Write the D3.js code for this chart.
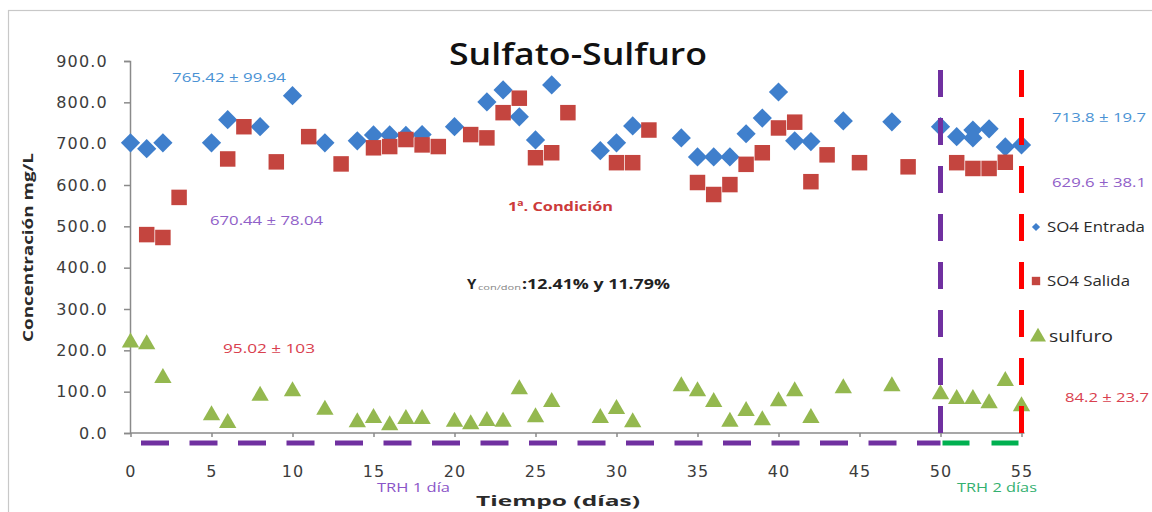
<!DOCTYPE html>
<html>
<head>
<meta charset="utf-8">
<script src="https://cdn.jsdelivr.net/npm/d3@7"></script>
<style>
  html, body { margin: 0; padding: 0; background: #fff; }
  svg { display: block; }
</style>
</head>
<body>
<script>
// Sulfate inlet, sulfate outlet and sulfide over time (days)
const entradaDias = [0,1,2,5,6,8,10,12,14,15,16,17,18,20,22,23,24,25,26,29,30,31,34,35,36,37,38,39,40,41,42,44,47,50,51,52,52,53,54,55];
const entradaVals = [702,688,702,702,758,741,816,702,707,721,721,720,722,741,801,830,765,709,842,683,702,743,714,668,668,668,724,762,825,707,705,755,753,741,717,733,714,736,692,697];

const salidaDias = [1,2,3,6,7,9,11,13,15,16,17,18,19,21,22,23,24,25,26,27,30,31,32,35,36,37,38,39,40,41,42,43,45,48,51,52,53,54];
const salidaVals = [480,473,570,663,741,656,717,651,690,693,710,697,693,722,714,775,810,666,678,775,654,654,733,606,577,601,650,678,738,752,608,673,654,644,654,640,640,655];

const sulfuroDias = [0,1,2,5,6,8,10,12,14,15,16,17,18,20,21,22,23,24,25,26,29,30,31,34,35,36,37,38,39,40,41,42,44,47,50,51,52,53,54,55];
const sulfuroVals = [219,215,133,43,24,90,101,56,26,36,19,34,34,27,21,29,27,106,38,75,36,58,26,113,101,75,27,53,31,77,101,36,108,113,94,82,82,72,126,65];

const yTicks = [0,100,200,300,400,500,600,700,800,900];
const xTicks = [0,5,10,15,20,25,30,35,40,45,50,55];

// phase boundaries (days)
const cambioTRH = 50;
const finCondicion = 55;

const W = 1152, H = 512;
const svg = d3.select("body").append("svg")
  .attr("width", W).attr("height", H)
  .attr("viewBox", `0 0 ${W} ${H}`);

svg.append("rect").attr("width", W).attr("height", H).attr("fill", "#fff");
// outer chart frame
svg.append("rect")
  .attr("x", 8.5).attr("y", 10.5).attr("width", 1200).attr("height", 600)
  .attr("fill", "none").attr("stroke", "#c8c8c8").attr("stroke-width", 1.2);

const x = d3.scaleLinear().domain([0, 55]).range([130.5, 1021.5]);
const y = d3.scaleLinear().domain([0, 900]).range([433, 61]);

const tickFont = "'DejaVu Sans', sans-serif";
const axisColor = "#8a8a8a";

// Y axis
const gy = svg.append("g")
  .attr("transform", `translate(${x(0) - 0.5},0)`)
  .call(d3.axisLeft(y).tickValues(yTicks).tickFormat(d3.format(".1f")).tickSize(6).tickPadding(16));
gy.select(".domain").attr("stroke", axisColor).attr("stroke-width", 1.5);
gy.selectAll(".tick line").attr("stroke", axisColor).attr("stroke-width", 1.5);
gy.selectAll(".tick text")
  .attr("font-family", tickFont).attr("font-size", 16)
  .attr("letter-spacing", 1.2).attr("fill", "#3c3c3c");

// X axis
const gx = svg.append("g")
  .attr("transform", `translate(0,${y(0)})`)
  .call(d3.axisBottom(x).tickValues(xTicks).tickFormat(d3.format("d")).tickSize(4).tickSizeOuter(0));
gx.select(".domain").attr("stroke", axisColor).attr("stroke-width", 1.5)
  .attr("d", `M${x(0) - 0.5},0H${x(55) + 3}`);
gx.selectAll(".tick line").attr("stroke", axisColor).attr("stroke-width", 1.5);
gx.selectAll(".tick text")
  .attr("font-family", tickFont).attr("font-size", 16)
  .attr("letter-spacing", 1.2).attr("fill", "#3c3c3c")
  .attr("y", 44).attr("dy", 0);

// series markers
const cEntrada = "#3f7fcc", cSalida = "#c4453f", cSulfuro = "#94b84f";
const diamond = d3.symbol(d3.symbolSquare, 185)();
const square = d3.symbol(d3.symbolSquare, 240)();
const triangle = d3.symbol(d3.symbolTriangle, 130)();

svg.append("g").selectAll("path").data(d3.zip(entradaDias, entradaVals)).join("path")
  .attr("d", diamond)
  .attr("transform", d => `translate(${x(d[0])},${y(d[1])}) rotate(45)`)
  .attr("fill", cEntrada);

svg.append("g").selectAll("path").data(d3.zip(salidaDias, salidaVals)).join("path")
  .attr("d", square)
  .attr("transform", d => `translate(${x(d[0])},${y(d[1])})`)
  .attr("fill", cSalida);

svg.append("g").selectAll("path").data(d3.zip(sulfuroDias, sulfuroVals)).join("path")
  .attr("d", triangle)
  .attr("transform", d => `translate(${x(d[0])},${y(d[1])})`)
  .attr("fill", cSulfuro);

// phase boundary lines (drawn upward from the axis)
function vDash(day, color) {
  svg.append("line")
    .attr("x1", x(day)).attr("x2", x(day))
    .attr("y1", y(0)).attr("y2", 70)
    .attr("stroke", color).attr("stroke-width", 5)
    .attr("stroke-dasharray", "27,21");
}
vDash(cambioTRH, "#7030a0");
vDash(finCondicion, "#ff0000");

// HRT period bars under the axis
svg.append("line")
  .attr("x1", 141).attr("x2", x(cambioTRH))
  .attr("y1", 443).attr("y2", 443)
  .attr("stroke", "#7030a0").attr("stroke-width", 5)
  .attr("stroke-dasharray", "28,20.5");
svg.append("line")
  .attr("x1", x(cambioTRH) + 2).attr("x2", x(finCondicion))
  .attr("y1", 443).attr("y2", 443)
  .attr("stroke", "#00b050").attr("stroke-width", 5)
  .attr("stroke-dasharray", "27,22");

// text helper
function txt(xp, yp, s, o) {
  const t = svg.append("text")
    .attr("x", xp).attr("y", yp)
    .attr("font-family", o.font || "'Open Sans', sans-serif")
    .attr("font-size", o.size || 13)
    .attr("font-weight", o.weight || "normal")
    .attr("fill", o.color || "#222")
    .attr("text-anchor", o.anchor || "start")
    .text(s);
  if (o.len) t.attr("textLength", o.len).attr("lengthAdjust", "spacingAndGlyphs");
  if (o.rotate) t.attr("transform", `rotate(${o.rotate},${xp},${yp})`);
  return t;
}

// title and axis titles
txt(449, 65, "Sulfato-Sulfuro", {size: 31, weight: 600, color: "#111", len: 258});
txt(33, 342, "Concentración mg/L", {size: 15, weight: "bold", color: "#2a2a2a", len: 189, rotate: -90});
txt(476, 506, "Tiempo (días)", {size: 15, weight: "bold", color: "#2a2a2a", len: 164});

// HRT labels
txt(377, 492, "TRH 1 día", {size: 12, color: "#8a55c8", len: 73});
txt(957, 492, "TRH 2 días", {size: 12, color: "#33b070", len: 80});

// mean ± sd annotations
const cAzul = "#4a92d4", cMorado = "#9060c8", cRojo = "#d9404e";
txt(172, 82, "765.42 ± 99.94", {size: 13, color: cAzul, len: 114});
txt(210, 225, "670.44 ± 78.04", {size: 13, color: cMorado, len: 113});
txt(223, 353, "95.02 ± 103", {size: 13, color: cRojo, len: 92});
txt(1052, 122, "713.8 ± 19.7", {size: 13, color: cAzul, len: 94});
txt(1052, 187, "629.6 ± 38.1", {size: 13, color: cMorado, len: 94});
txt(1065, 402, "84.2 ± 23.7", {size: 13, color: cRojo, len: 84});
txt(508, 211, "1ª. Condición", {size: 13, weight: "bold", color: "#cc3a3a", len: 105});

// yield annotation
txt(467, 289, "Y", {size: 15, weight: "bold", color: "#222"});
txt(478, 290, "con/don", {size: 7, color: "#888", len: 43});
txt(522, 289, ":12.41% y 11.79%", {size: 15, weight: "bold", color: "#222", len: 148});

// legend
const leg = [
  {sym: d3.symbol(d3.symbolSquare, 34)(), rot: 45, color: cEntrada, label: "SO4 Entrada", y: 227, tx: 1047, len: 98, size: 14},
  {sym: d3.symbol(d3.symbolSquare, 70)(), rot: 0, color: cSalida, label: "SO4 Salida", y: 281, tx: 1047, len: 83, size: 14},
  {sym: d3.symbol(d3.symbolTriangle, 110)(), rot: 0, color: cSulfuro, label: "sulfuro", y: 337, tx: 1049, len: 64, size: 16}
];
leg.forEach(l => {
  svg.append("path").attr("d", l.sym)
    .attr("transform", `translate(${l.tx - 11},${l.y}) rotate(${l.rot})`)
    .attr("fill", l.color);
  txt(l.tx, l.y + 5, l.label, {size: l.size, color: "#2a2a2a", len: l.len});
});
</script>
</body>
</html>
